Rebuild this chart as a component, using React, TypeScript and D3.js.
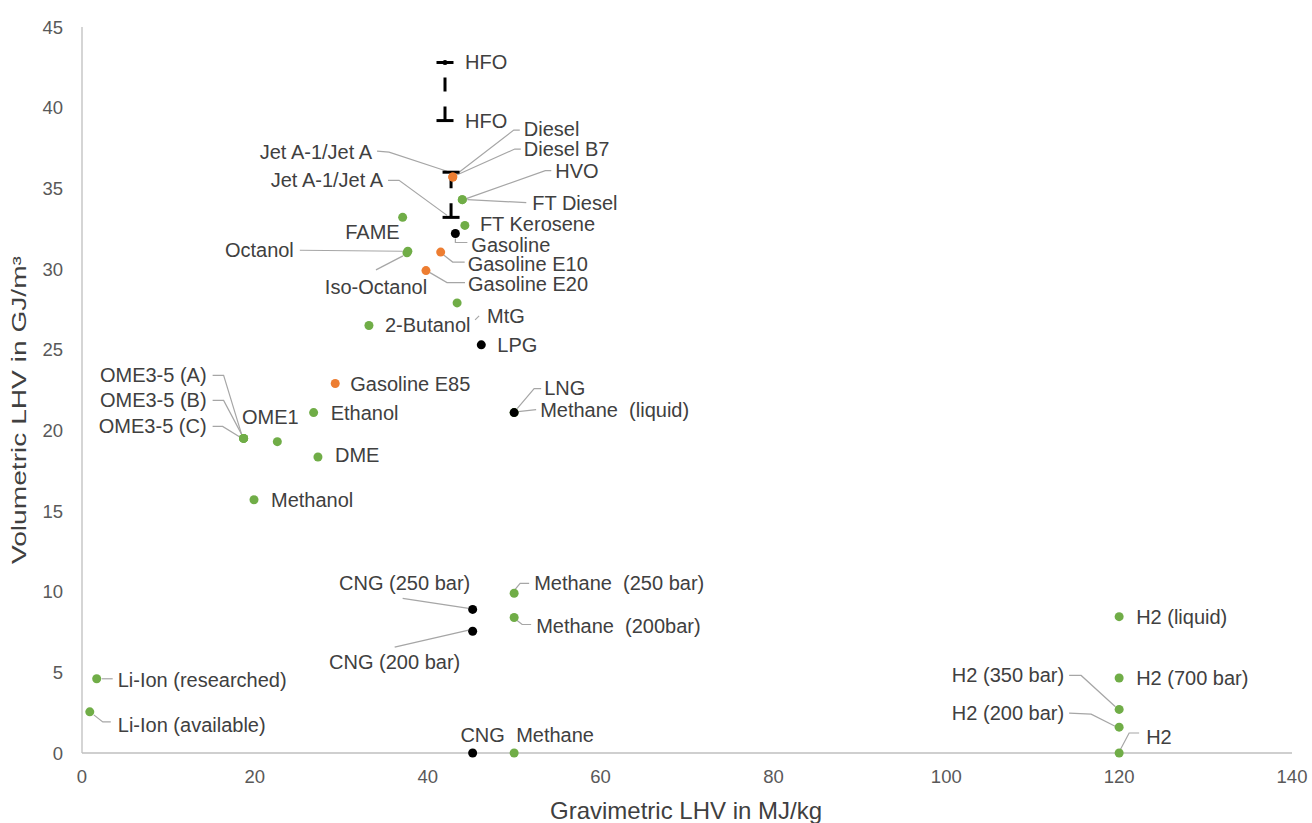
import React from "react";
import * as d3 from "d3";

// Fuels grouped by kind: gravimetric LHV (MJ/kg) and volumetric LHV (GJ/m³)
type Fuel = { id: string; name: string; mj: number; gj: number };
type FuelRange = { id: string; name: string; mj: number; low: number; high: number };

const renewableFuels: Fuel[] = [
  { id: "fame", name: "FAME", mj: 37.1, gj: 33.2 },
  { id: "octanol", name: "Octanol", mj: 37.7, gj: 31.1 },
  { id: "isooctanol", name: "Iso-Octanol", mj: 37.6, gj: 31.0 },
  { id: "hvo", name: "HVO", mj: 44.0, gj: 34.3 },
  { id: "ftdiesel", name: "FT Diesel", mj: 44.0, gj: 34.3 },
  { id: "ftkerosene", name: "FT Kerosene", mj: 44.3, gj: 32.7 },
  { id: "mtg", name: "MtG", mj: 43.4, gj: 27.9 },
  { id: "butanol", name: "2-Butanol", mj: 33.2, gj: 26.5 },
  { id: "ethanol", name: "Ethanol", mj: 26.8, gj: 21.1 },
  { id: "ome1", name: "OME1", mj: 22.6, gj: 19.3 },
  { id: "ome35a", name: "OME3-5 (A)", mj: 18.7, gj: 19.5 },
  { id: "ome35b", name: "OME3-5 (B)", mj: 18.7, gj: 19.5 },
  { id: "ome35c", name: "OME3-5 (C)", mj: 18.7, gj: 19.5 },
  { id: "dme", name: "DME", mj: 27.3, gj: 18.35 },
  { id: "methanol", name: "Methanol", mj: 19.9, gj: 15.7 },
  { id: "methaneliq", name: "Methane\u00a0 (liquid)", mj: 50, gj: 21.1 },
  { id: "methane250", name: "Methane\u00a0 (250 bar)", mj: 50, gj: 9.9 },
  { id: "methane200", name: "Methane\u00a0 (200bar)", mj: 50, gj: 8.4 },
  { id: "methane", name: "Methane", mj: 50, gj: 0 },
  { id: "h2liq", name: "H2 (liquid)", mj: 120, gj: 8.45 },
  { id: "h2700", name: "H2 (700 bar)", mj: 120, gj: 4.65 },
  { id: "h2350", name: "H2 (350 bar)", mj: 120, gj: 2.7 },
  { id: "h2200", name: "H2 (200 bar)", mj: 120, gj: 1.6 },
  { id: "h2", name: "H2", mj: 120, gj: 0 },
  { id: "liionres", name: "Li-Ion (researched)", mj: 1.7, gj: 4.6 },
  { id: "liionavail", name: "Li-Ion (available)", mj: 0.9, gj: 2.55 },
];

const blendFuels: Fuel[] = [
  { id: "diesel", name: "Diesel", mj: 42.9, gj: 35.7 },
  { id: "dieselb7", name: "Diesel B7", mj: 42.9, gj: 35.7 },
  { id: "e10", name: "Gasoline E10", mj: 41.5, gj: 31.05 },
  { id: "e20", name: "Gasoline E20", mj: 39.8, gj: 29.9 },
  { id: "e85", name: "Gasoline E85", mj: 29.3, gj: 22.9 },
];

const fossilFuels: Fuel[] = [
  { id: "gasoline", name: "Gasoline", mj: 43.2, gj: 32.2 },
  { id: "lpg", name: "LPG", mj: 46.2, gj: 25.3 },
  { id: "lng", name: "LNG", mj: 50, gj: 21.1 },
  { id: "cng250", name: "CNG (250 bar)", mj: 45.2, gj: 8.9 },
  { id: "cng200", name: "CNG (200 bar)", mj: 45.2, gj: 7.55 },
  { id: "cng", name: "CNG", mj: 45.2, gj: 0 },
];

const rangeFuels: FuelRange[] = [
  { id: "hfo", name: "HFO", mj: 42.0, low: 39.2, high: 42.8 },
  { id: "jet", name: "Jet A-1/Jet A", mj: 42.7, low: 33.2, high: 36.0 },
];

const xTicks = [0, 20, 40, 60, 80, 100, 120, 140];
const yTicks = [0, 5, 10, 15, 20, 25, 30, 35, 40, 45];

const xTitle = "Gravimetric LHV in MJ/kg";
const yTitle = "Volumetric LHV in GJ/m³";

// Label placement relative to each mark (pixels): text offset and leader polyline
type Placement = {
  dx: number;
  dy: number;
  anchor?: "start" | "middle" | "end";
  leader?: [number, number][];
};

const labelLayout: Record<string, Placement> = {
  "hfo-high": { dx: 20, dy: 0 },
  "hfo-low": { dx: 20, dy: 0 },
  "jet-high": { dx: -79, dy: -20, anchor: "end", leader: [[-74, -21], [-62, -20], [-4, -1]] },
  "jet-low": { dx: -68, dy: -37, anchor: "end", leader: [[-63, -37], [-52, -37], [-4, -2]] },
  diesel: { dx: 71, dy: -48, leader: [[4, -3], [61, -47], [67, -47]] },
  dieselb7: { dx: 71, dy: -28, leader: [[4, -2], [62, -28], [68, -28]] },
  hvo: { dx: 93, dy: -29, leader: [[4, -1], [83, -29], [89, -29]] },
  ftdiesel: { dx: 70, dy: 3, leader: [[5, 0], [64, 3]] },
  ftkerosene: { dx: 15, dy: -1 },
  gasoline: { dx: 16, dy: 11, leader: [[0, 5], [0, 9], [12, 9]] },
  e10: { dx: 27, dy: 12, leader: [[3, 3], [12, 10], [24, 10]] },
  e20: { dx: 42, dy: 13, leader: [[4, 2], [21, 12], [39, 12]] },
  fame: { dx: -3, dy: 15, anchor: "end" },
  octanol: { dx: -114, dy: -1, anchor: "end", leader: [[-108, -1], [-5, 0]] },
  isooctanol: { dx: -31, dy: 34, anchor: "middle", leader: [[-31, 17], [-4, 3]] },
  mtg: { dx: 30, dy: 13, leader: [[18, 17], [22, 13]] },
  butanol: { dx: 16, dy: 0 },
  lpg: { dx: 16, dy: 0 },
  lng: { dx: 30, dy: -25, leader: [[3, -4], [20, -24], [27, -24]] },
  methaneliq: { dx: 26, dy: -3, leader: [[4, -1], [22, -3]] },
  e85: { dx: 15, dy: 0 },
  ethanol: { dx: 17, dy: 0 },
  ome1: { dx: -7, dy: -25, anchor: "middle" },
  ome35a: { dx: -37, dy: -63, anchor: "end", leader: [[-31, -63], [-20, -63], [-2, -4]] },
  ome35b: { dx: -37, dy: -38, anchor: "end", leader: [[-31, -38], [-20, -38], [-2, -4]] },
  ome35c: { dx: -37, dy: -12, anchor: "end", leader: [[-31, -12], [-21, -12], [-3, -1]] },
  dme: { dx: 17, dy: -2 },
  methanol: { dx: 17, dy: 0 },
  cng250: { dx: -68, dy: -26, anchor: "middle", leader: [[-70, -11], [-4, -1]] },
  cng200: { dx: -78, dy: 31, anchor: "middle", leader: [[-78, 16], [-4, -1]] },
  methane250: { dx: 20, dy: -10, leader: [[1, -4], [6, -10], [15, -10]] },
  methane200: { dx: 22, dy: 9, leader: [[3, 3], [8, 7], [17, 7]] },
  cng: { dx: 10, dy: -18, anchor: "middle" },
  methane: { dx: 2, dy: -18 },
  h2liq: { dx: 17, dy: 0 },
  h2700: { dx: 17, dy: 0 },
  h2350: { dx: -55, dy: -34, anchor: "end", leader: [[-50, -34], [-38, -34], [-4, -3]] },
  h2200: { dx: -55, dy: -14, anchor: "end", leader: [[-50, -14], [-28, -13], [-4, -1]] },
  h2: { dx: 27, dy: -16, leader: [[1, -3], [10, -20], [20, -20]] },
  liionres: { dx: 21, dy: 1, leader: [[5, 0], [16, 0]] },
  liionavail: { dx: 28, dy: 13, leader: [[4, 3], [13, 10], [21, 10]] },
};

const GREEN = "#70ad47";
const ORANGE = "#ed7d31";
const BLACK = "#000000";
const FONT = "'Liberation Sans', Arial, Helvetica, sans-serif";

export default function App() {
  const W = 1312;
  const H = 823;
  const x = d3.scaleLinear().domain([0, 140]).range([82, 1292]);
  const y = d3.scaleLinear().domain([0, 45]).range([753, 27]);
  const line = d3.line<[number, number]>();
  const labelSize = 20;

  const labels: { key: string; text: string; px: number; py: number }[] = [];
  [...renewableFuels, ...blendFuels, ...fossilFuels].forEach((f) =>
    labels.push({ key: f.id, text: f.name, px: x(f.mj), py: y(f.gj) })
  );
  rangeFuels.forEach((r) => {
    labels.push({ key: `${r.id}-high`, text: r.name, px: x(r.mj), py: y(r.high) });
    labels.push({ key: `${r.id}-low`, text: r.name, px: x(r.mj), py: y(r.low) });
  });

  const dots = (data: Fuel[], color: string) =>
    data.map((f) => (
      <circle key={f.id} cx={x(f.mj)} cy={y(f.gj)} r={4.5} fill={color} />
    ));

  return (
    <svg
      width={W}
      height={H}
      style={{ position: "absolute", left: 0, top: 0, background: "#fff" }}
      fontFamily={FONT}
    >
      <rect width={W} height={H} fill="#fff" />
      {/* axes */}
      <line x1={x(0)} x2={x(0)} y1={y(45)} y2={y(0)} stroke="#bfbfbf" strokeWidth={1.3} />
      <line x1={x(0)} x2={x(140)} y1={y(0)} y2={y(0)} stroke="#bfbfbf" strokeWidth={1.3} />
      {xTicks.map((t) => (
        <text key={`xt${t}`} x={x(t)} y={783} textAnchor="middle" fontSize={18.5} fill="#595959">
          {t}
        </text>
      ))}
      {yTicks.map((t) => (
        <text key={`yt${t}`} x={63} y={y(t) + 6.5} textAnchor="end" fontSize={18.5} fill="#595959">
          {t}
        </text>
      ))}
      <text x={686} y={819} textAnchor="middle" fontSize={24} fill="#404040">
        {xTitle}
      </text>
      <text
        transform={`translate(26,410) rotate(-90)`}
        textAnchor="middle"
        fontSize={19.5}
        fill="#404040"
        textLength={308}
        lengthAdjust="spacingAndGlyphs"
      >
        {yTitle}
      </text>

      {/* leader lines */}
      {labels.map((l) => {
        const p = labelLayout[l.key];
        if (!p || !p.leader) return null;
        const pts = p.leader.map(([a, b]) => [l.px + a, l.py + b] as [number, number]);
        return (
          <path key={`ld-${l.key}`} d={line(pts) || ""} fill="none" stroke="#a6a6a6" strokeWidth={1.2} />
        );
      })}

      {/* range bars */}
      {rangeFuels.map((r) => {
        const cx = x(r.mj);
        const y0 = y(r.low);
        const y1 = y(r.high);
        return (
          <g key={r.id} stroke={BLACK} strokeWidth={3}>
            <line x1={cx} x2={cx} y1={y0} y2={y1} strokeDasharray="14,15" />
            <line x1={cx - 8.5} x2={cx + 8.5} y1={y0} y2={y0} />
            <line x1={cx - 8.5} x2={cx + 8.5} y1={y1} y2={y1} />
            {r.id === "hfo" && <circle cx={cx} cy={y1} r={2.5} fill={BLACK} stroke="none" />}
          </g>
        );
      })}

      {dots(renewableFuels, GREEN)}
      {dots(fossilFuels, BLACK)}
      {dots(blendFuels, ORANGE)}

      {/* data labels */}
      {labels.map((l) => {
        const p = labelLayout[l.key] || { dx: 15, dy: 0 };
        return (
          <text
            key={`lb-${l.key}`}
            x={l.px + p.dx}
            y={l.py + p.dy + labelSize * 0.35}
            textAnchor={p.anchor || "start"}
            fontSize={labelSize}
            fill="#404040"
            style={{ whiteSpace: "pre" }}
          >
            {l.text}
          </text>
        );
      })}
    </svg>
  );
}
